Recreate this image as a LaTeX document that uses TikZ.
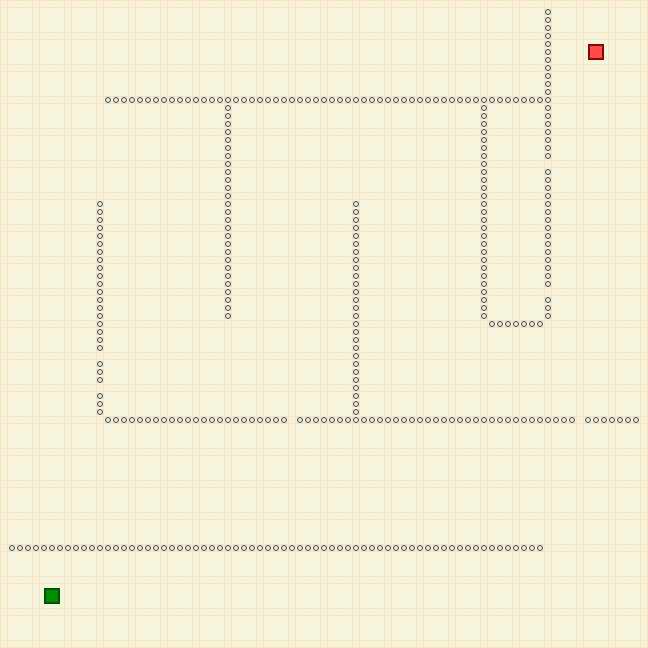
\documentclass[tikz,border=0pt]{standalone}
\usepackage{tikz}
\definecolor{bgcol}{HTML}{F5F5DC}
\definecolor{gridcol}{HTML}{FFDFC2}
\definecolor{wallcol}{HTML}{707070}
\definecolor{goalfill}{HTML}{FF4B4B}
\definecolor{goaldraw}{HTML}{8B0000}
\definecolor{startfill}{HTML}{008C00}
\definecolor{startdraw}{HTML}{005000}
\tikzset{
  gridline/.style={draw=gridcol, line width=1.3pt},
  wallpt/.style={draw=wallcol, fill=white!60!bgcol, line width=1.2pt},
  marker/.style={rectangle, inner sep=0pt, outer sep=0pt, minimum size=14pt, line width=2pt},
}
\begin{document}
\begin{tikzpicture}[x=1pt,y=-1pt]
\useasboundingbox (0,0) rectangle (648,648);
\fill[bgcol] (0,0) rectangle (648,648);
% grid
\foreach \k in {0,...,20}{
  \draw[gridline] ({32*\k+0.5},0) -- ({32*\k+0.5},648);
  \draw[gridline] ({32*\k+7.5},0) -- ({32*\k+7.5},648);
  \draw[gridline] (0,{32*\k+0.5}) -- (648,{32*\k+0.5});
  \draw[gridline] (0,{32*\k+7.5}) -- (648,{32*\k+7.5});
}
% walls
\foreach \x in {108,116,...,548} \draw[wallpt] (\x,100) circle[radius=2.5pt];
\foreach \y in {12,20,...,92} \draw[wallpt] (548,\y) circle[radius=2.5pt];
\foreach \y in {108,116,...,156} \draw[wallpt] (548,\y) circle[radius=2.5pt];
\foreach \y in {172,180,...,284} \draw[wallpt] (548,\y) circle[radius=2.5pt];
\foreach \y in {300,308,316} \draw[wallpt] (548,\y) circle[radius=2.5pt];
\foreach \y in {108,116,...,316} \draw[wallpt] (228,\y) circle[radius=2.5pt];
\foreach \y in {108,116,...,316} \draw[wallpt] (484,\y) circle[radius=2.5pt];
\foreach \x in {492,500,...,540} \draw[wallpt] (\x,324) circle[radius=2.5pt];
\foreach \y in {204,212,...,348} \draw[wallpt] (100,\y) circle[radius=2.5pt];
\foreach \y in {364,372,380} \draw[wallpt] (100,\y) circle[radius=2.5pt];
\foreach \y in {396,404,412} \draw[wallpt] (100,\y) circle[radius=2.5pt];
\foreach \y in {204,212,...,412} \draw[wallpt] (356,\y) circle[radius=2.5pt];
\foreach \x in {108,116,...,284} \draw[wallpt] (\x,420) circle[radius=2.5pt];
\foreach \x in {300,308,...,572} \draw[wallpt] (\x,420) circle[radius=2.5pt];
\foreach \x in {588,596,...,636} \draw[wallpt] (\x,420) circle[radius=2.5pt];
\foreach \x in {12,20,...,540} \draw[wallpt] (\x,548) circle[radius=2.5pt];
% start and goal
\node[marker, draw=goaldraw, fill=goalfill] (goal) at (596,52) {};
\node[marker, draw=startdraw, fill=startfill] (start) at (52,596) {};
\end{tikzpicture}
\end{document}
